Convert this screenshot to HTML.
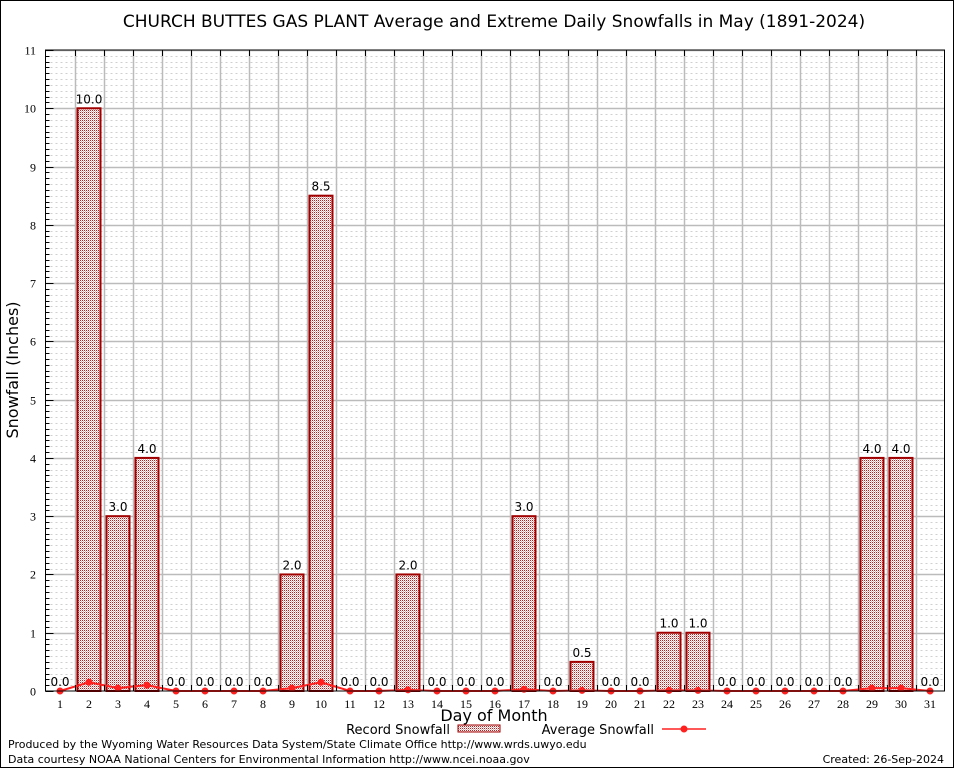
<!DOCTYPE html>
<html><head><meta charset="utf-8"><style>
body{margin:0;background:#fff;}
svg{display:block;font-family:"DejaVu Sans","Liberation Sans",sans-serif;}
</style></head><body>
<svg id="chart" width="954" height="768">
<defs>
<pattern id="dots" width="2" height="2" patternUnits="userSpaceOnUse">
<rect width="2" height="2" fill="#fff" shape-rendering="crispEdges"/><rect width="1" height="1" fill="#b82020" shape-rendering="crispEdges"/><rect x="1" y="1" width="1" height="1" fill="#e8b0b0" shape-rendering="crispEdges"/>
</pattern>
</defs>
<rect x="0.5" y="0.5" width="953" height="767" fill="#fff" stroke="#000"/>
<text x="494" y="27" font-size="17" text-anchor="middle">CHURCH BUTTES GAS PLANT Average and Extreme Daily Snowfalls in May (1891-2024)</text>
<g id="grid"></g><g id="bars"></g><g id="line"></g><g id="axes"></g>
<text x="18" y="370" font-size="16" text-anchor="middle" transform="rotate(-90 18 370)">Snowfall (Inches)</text>
<text x="494" y="721" font-size="16" text-anchor="middle">Day of Month</text>
<g>
<text x="450" y="734" font-size="13" text-anchor="end">Record Snowfall</text>
<rect x="458" y="725" width="42" height="7" fill="url(#dots)" stroke="#a00000"/>
</g>
<g>
<text x="654" y="734" font-size="13" text-anchor="end">Average Snowfall</text>
<line x1="662" y1="729" x2="706" y2="729" stroke="#ff2020" stroke-width="1.5"/>
<circle cx="684" cy="729" r="3.5" fill="#ff2020"/>
</g>
<text x="8" y="748" font-size="11">Produced by the Wyoming Water Resources Data System/State Climate Office http://www.wrds.uwyo.edu</text>
<text x="8" y="763" font-size="11">Data courtesy NOAA National Centers for Environmental Information http://www.ncei.noaa.gov</text>
<text x="944" y="763" font-size="11" text-anchor="end">Created: 26-Sep-2024</text>
</svg>
<script>
const days=[1,2,3,4,5,6,7,8,9,10,11,12,13,14,15,16,17,18,19,20,21,22,23,24,25,26,27,28,29,30,31];
const records=[0,10,3,4,0,0,0,0,2,8.5,0,0,2,0,0,0,3,0,0.5,0,0,1,1,0,0,0,0,0,4,4,0];
const averages=[0,0.15,0.05,0.1,0,0,0,0,0.05,0.15,0,0,0.02,0,0,0,0.03,0,0.01,0,0,0.01,0.01,0,0,0,0,0,0.05,0.05,0];
const yTicks=[0,1,2,3,4,5,6,7,8,9,10,11];
const NS="http://www.w3.org/2000/svg";
const L=45.5,R=944.5,T=50,B=691;
const x=d=>60+(d-1)*29;
const y=v=>B-(v/11)*(B-T);
function mk(p,tag,a){const e=document.createElementNS(NS,tag);for(const k in a)e.setAttribute(k,a[k]);p.appendChild(e);return e;}
const grid=document.getElementById('grid'),axes=document.getElementById('axes');
for(let i=1;i<110;i++){if(i%10===0)continue;const yy=Math.round(y(i/10))+0.5;
const g=mk(grid,'line',{x1:L,x2:R,y1:yy,y2:yy,stroke:'#d0d0d0','stroke-dasharray':'2,3'});


mk(axes,'line',{x1:L,x2:L+4,y1:yy,y2:yy,stroke:'#000'});}
yTicks.forEach(v=>{const yy=Math.round(y(v))+0.5;
if(v>0){const g=mk(grid,'line',{x1:L,x2:R,y1:yy,y2:yy,stroke:'#bbb','stroke-width':1.5});

}
mk(axes,'line',{x1:L,x2:L+8,y1:yy,y2:yy,stroke:'#000'});
const t=mk(axes,'text',{x:36,y:yy+4,'font-size':12,'text-anchor':'end','font-family':'Liberation Serif,serif'});t.textContent=v;

});
for(let d=1;d<31;d++){const xx=Math.round(x(d)+14.5)+0.5;
const g=mk(grid,'line',{x1:xx,x2:xx,y1:T,y2:B,stroke:'#bbb','stroke-width':1.5});


mk(axes,'line',{x1:xx,x2:xx,y1:T,y2:T+6,stroke:'#000'});
mk(axes,'line',{x1:xx,x2:xx,y1:B,y2:B-6,stroke:'#000'});}
mk(axes,'rect',{x:L,y:T,width:R-L,height:B-T,fill:'none',stroke:'#000'});
days.forEach(d=>{const t=mk(axes,'text',{x:x(d),y:708,'font-size':12,'text-anchor':'middle','font-family':'Liberation Serif,serif'});t.textContent=d;

});
const bars=document.getElementById('bars');
days.forEach((d,i)=>{const v=records[i];
if(v>0){const r=mk(bars,'rect',{x:x(d)-11.5,y:y(v),width:23,height:B-y(v),fill:'url(#dots)',stroke:'#a00000','stroke-width':2});

}
const t=mk(bars,'text',{x:x(d),y:y(v)-5,'font-size':12,'text-anchor':'middle'});t.textContent=v.toFixed(1);

});
const line=document.getElementById('line');
const pl=mk(line,'polyline',{points:days.map((d,i)=>x(d)+','+y(averages[i])).join(' '),fill:'none',stroke:'#ff2020','stroke-width':2});


days.forEach((d,i)=>{const c=mk(line,'circle',{cx:x(d),cy:y(averages[i]),r:3.5,fill:'#ff2020'});

});
</script>
</body></html>
